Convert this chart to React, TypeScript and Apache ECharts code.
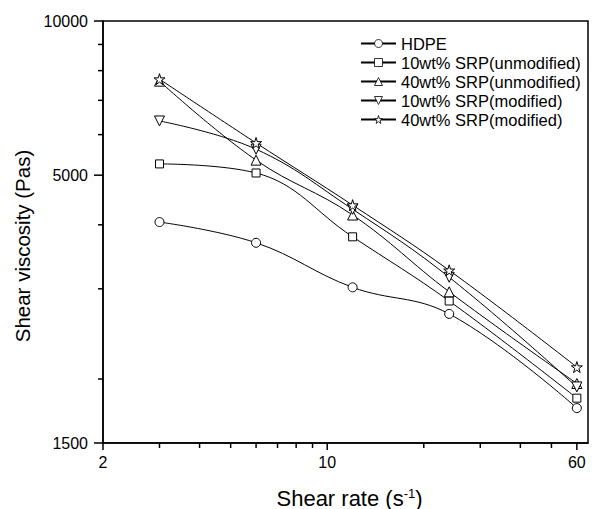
import React, { useEffect, useRef } from "react";
import * as echarts from "echarts";

const shearRates = [3, 6, 12, 24, 60];
const hdpe = [4050, 3690, 3020, 2680, 1755];
const srp10Unmod = [5260, 5050, 3790, 2840, 1835];
const srp40Unmod = [7630, 5350, 4180, 2960, 1960];
const srp10Mod = [6380, 5620, 4290, 3160, 1930];
const srp40Mod = [7700, 5780, 4370, 3260, 2110];

const seriesNames = [
  "HDPE",
  "10wt% SRP(unmodified)",
  "40wt% SRP(unmodified)",
  "10wt% SRP(modified)",
  "40wt% SRP(modified)",
];

const xMajorTicks = [2, 10, 60];
const xMinorTicks = [3, 4, 5, 6, 7, 8, 9, 20, 30, 40, 50];
const yMajorTicks = [1500, 5000, 10000];
const yMinorTicks = [2000, 3000, 4000, 6000, 7000, 8000, 9000];

const X_MIN = 2;
const X_MAX = 65;
const Y_MIN = 1500;
const Y_MAX = 10000;

const Y_TITLE = "Shear viscosity (Pas)";

const FONT = "'Liberation Sans', Arial, Helvetica, sans-serif";
const STAR =
  "path://M50,0 L61,35 L98,35 L68,57 L79,91 L50,70 L21,91 L32,57 L2,35 L39,35 Z";
const DOWN_TRI = "path://M0,0 L100,0 L50,90 Z";

export default function App() {
  const ref = useRef<HTMLDivElement>(null);

  useEffect(() => {
    if (!ref.current) return;
    const chart = echarts.init(ref.current, null, { renderer: "svg" });

    const allSeries = [hdpe, srp10Unmod, srp40Unmod, srp10Mod, srp40Mod];
    const symbols = ["circle", "rect", "triangle", DOWN_TRI, STAR];
    const sizes = [9, 8, 10, 10, 11];

    const series: any[] = allSeries.map((vals, i) => ({
      name: seriesNames[i],
      type: "line",
      data: shearRates.map((x, j) => [x, vals[j]]),
      smooth: 0.4,
      symbol: symbols[i],
      symbolSize: sizes[i],
      showAllSymbol: true,
      lineStyle: { color: "#000", width: 1 },
      itemStyle: { color: "#fff", borderColor: "#000", borderWidth: 1 },
      emphasis: { disabled: true },
      z: 3,
    }));

    const tickStyle = { stroke: "#000", lineWidth: 1.5 };

    // x-axis ticks, drawn through the axis scale (outward)
    series.push({
      type: "custom",
      name: "xTicks",
      silent: true,
      clip: false,
      data: [...xMajorTicks, ...xMinorTicks].map((v) => [v, Y_MIN]),
      renderItem: (_p: any, api: any) => {
        const v = api.value(0);
        const len = xMajorTicks.includes(v) ? 7 : 5;
        const pt = api.coord([v, Y_MIN]);
        return {
          type: "line",
          shape: { x1: pt[0], y1: pt[1], x2: pt[0], y2: pt[1] + len },
          style: tickStyle,
        };
      },
    });
    // y-axis ticks (outward)
    series.push({
      type: "custom",
      name: "yTicks",
      silent: true,
      clip: false,
      data: [...yMajorTicks, ...yMinorTicks].map((v) => [X_MIN, v]),
      renderItem: (_p: any, api: any) => {
        const v = api.value(1);
        const len = yMajorTicks.includes(v) ? 9 : 5;
        const pt = api.coord([X_MIN, v]);
        return {
          type: "line",
          shape: { x1: pt[0], y1: pt[1], x2: pt[0] - len, y2: pt[1] },
          style: tickStyle,
        };
      },
    });

    const axisLineStyle = { color: "#000", width: 1.5 };

    chart.setOption({
      animation: false,
      backgroundColor: "#fff",
      grid: {
        left: 103,
        top: 21,
        right: 8,
        bottom: 66,
        show: true,
        borderColor: "#000",
        borderWidth: 1.5,
        backgroundColor: "transparent",
        containLabel: false,
        outerBoundsMode: "none",
      },
      legend: {
        orient: "vertical",
        left: 360,
        top: 35,
        padding: 0,
        itemWidth: 35,
        itemHeight: 10,
        itemGap: 2,
        data: seriesNames,
        itemStyle: { borderWidth: 0.8 },
        textStyle: { fontFamily: FONT, fontSize: 16.5, color: "#000" },
      },
      graphic: [
        {
          type: "text",
          x: 22,
          y: 246,
          rotation: Math.PI / 2,
          style: {
            text: Y_TITLE,
            fontFamily: FONT,
            fontSize: 20.5,
            fill: "#000",
            align: "center",
            verticalAlign: "middle",
          },
        },
      ],
      xAxis: {
        type: "log",
        logBase: 10,
        min: X_MIN,
        max: X_MAX,
        position: "bottom",
        name: "{t|Shear rate (s}{s|-1}{t|)}",
        nameLocation: "middle",
        nameGap: 44,
        nameTextStyle: {
          padding: [0, 0, 0, 8],
          rich: {
            t: { fontFamily: FONT, fontSize: 22, color: "#000" },
            s: {
              fontFamily: FONT,
              fontSize: 13,
              color: "#000",
              verticalAlign: "top",
            },
          },
        },
        axisLine: { show: true, lineStyle: axisLineStyle },
        axisTick: { show: false },
        axisLabel: {
          customValues: xMajorTicks,
          margin: 11,
          fontFamily: FONT,
          fontSize: 16,
          color: "#000",
          formatter: (v: number) => String(Math.round(v)),
        },
        splitLine: { show: false },
      },
      yAxis: {
        type: "log",
        logBase: 10,
        min: Y_MIN,
        max: Y_MAX,
        position: "left",
        axisLine: { show: true, lineStyle: axisLineStyle },
        axisTick: { show: false },
        axisLabel: {
          customValues: yMajorTicks,
          margin: 15,
          fontFamily: FONT,
          fontSize: 16,
          color: "#000",
          formatter: (v: number) => String(Math.round(v)),
        },
        splitLine: { show: false },
      },
      series,
    });

    return () => chart.dispose();
  }, []);

  return (
    <div
      ref={ref}
      style={{ position: "absolute", left: 0, top: 0, width: 596, height: 509 }}
    />
  );
}
